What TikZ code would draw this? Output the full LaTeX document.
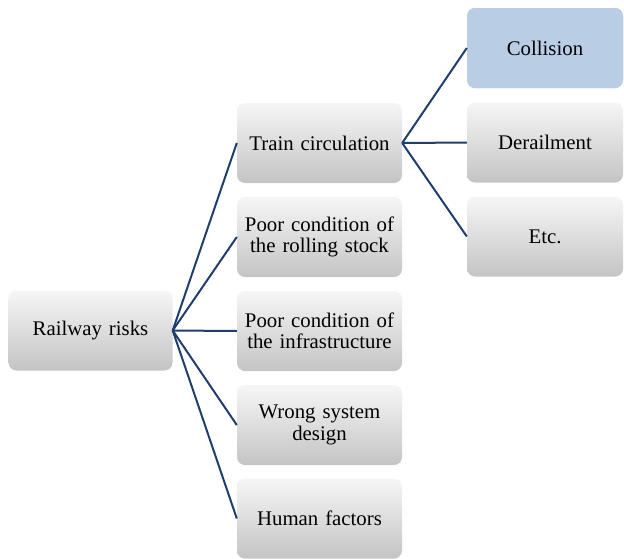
\documentclass[tikz,border=0pt]{standalone}
\usepackage{fontspec}
\setmainfont{Liberation Serif}
\begin{document}
\definecolor{linkblue}{RGB}{31,62,110}
\definecolor{boxtop}{RGB}{246,246,246}
\definecolor{boxbot}{RGB}{196,196,196}
\definecolor{hilite}{RGB}{185,205,228}
\begin{tikzpicture}[x=1pt,y=-1pt,
  box/.style={rounded corners=8pt, inner sep=2pt, align=center,
    minimum width=165pt, minimum height=80pt, text width=160pt,
    top color=boxtop, bottom color=boxbot, draw=none,
    font=\fontsize{20.8}{21.5}\selectfont},
  leaf/.style={box, minimum width=156pt, text width=150pt},
  hot/.style={leaf, top color=hilite, bottom color=hilite, fill=hilite},
  link/.style={draw=linkblue, line width=2pt}]
\useasboundingbox (0,0) rectangle (624,558);

% root
\node[box, minimum width=163pt] (root) at (90.5,330.5) {Railway risks};

% risk categories
\node[box] (train) at (319.5,143) {Train circulation};
\node[box] (stock) at (319.5,237) {Poor condition of\\the rolling stock};
\node[box] (infra) at (319.5,331) {Poor condition of\\the infrastructure};
\node[box] (design) at (319.5,425) {Wrong system\\design};
\node[box] (human) at (319.5,518.5) {Human factors};

% train circulation outcomes
\node[hot] (coll) at (545,48) {Collision};
\node[leaf] (derail) at (545,142.5) {Derailment};
\node[leaf] (etc) at (545,236.5) {Etc.};

% connectors
\foreach \n in {train,stock,infra,design,human}
  \draw[link] (root.east) -- (\n.west);
\foreach \n in {coll,derail,etc}
  \draw[link] (train.east) -- (\n.west);
\end{tikzpicture}
\end{document}
